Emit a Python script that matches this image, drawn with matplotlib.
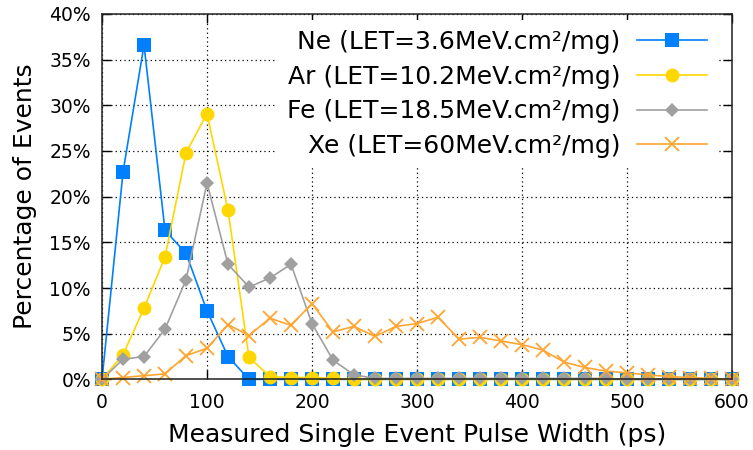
import numpy as np
import matplotlib
matplotlib.use("Agg")
import matplotlib.pyplot as plt
from matplotlib.ticker import FuncFormatter

# pulse width bins (ps)
pulse_width = list(range(0, 601, 20))

# percentage of events per ion
ne_pct = [0, 22.7, 36.6, 16.3, 13.8, 7.5, 2.5, 0, 0, 0, 0, 0, 0, 0, 0, 0,
          0, 0, 0, 0, 0, 0, 0, 0, 0, 0, 0, 0, 0, 0, 0]
ar_pct = [0, 2.7, 7.8, 13.4, 24.8, 29.1, 18.5, 2.4, 0.3, 0.2, 0.2, 0.1, 0, 0, 0, 0,
          0, 0, 0, 0, 0, 0, 0, 0, 0, 0, 0, 0, 0, 0, 0]
fe_pct = [0, 2.2, 2.5, 5.5, 10.9, 21.5, 12.6, 10.1, 11.1, 12.6, 6.1, 2.1, 0.5, 0.1, 0.1, 0.1,
          0.1, 0.1, 0.1, 0.1, 0.1, 0.1, 0.1, 0.1, 0.1, 0, 0, 0, 0, 0, 0]
xe_pct = [0, 0.2, 0.4, 0.6, 2.6, 3.4, 6.0, 4.8, 6.7, 5.9, 8.3, 5.2, 5.8, 4.7, 5.8, 6.1,
          6.8, 4.4, 4.6, 4.2, 3.8, 3.2, 1.9, 1.3, 0.9, 0.7, 0.5, 0.3, 0.2, 0.1, 0]

labels = ["Ne (LET=3.6MeV.cm²/mg)", "Ar (LET=10.2MeV.cm²/mg)",
          "Fe (LET=18.5MeV.cm²/mg)", "Xe (LET=60MeV.cm²/mg)"]

plt.rcParams['font.family'] = ['DejaVu Sans']

fig = plt.figure(figsize=(7.53, 4.5), dpi=100)
ax = fig.add_axes([0.1355, 0.157, 0.8365, 0.812])

ax.plot(pulse_width, ne_pct, label=labels[0], color='#0080FF', marker='s', ms=9.5,
        mew=0, lw=1.2, clip_on=False)
ax.plot(pulse_width, ar_pct, label=labels[1], color='#FFD700', marker='o', ms=10,
        mew=0, lw=1.2, clip_on=False)
ax.plot(pulse_width, fe_pct, label=labels[2], color='#A0A0A0', marker='D', ms=7.5,
        mew=0, lw=1.2, clip_on=False)
ax.plot(pulse_width, xe_pct, label=labels[3], color='#FFA530', marker='x', ms=10,
        mew=1.3, lw=1.2, clip_on=False)

ax.set_xlim(0, 600)
ax.set_ylim(0, 40)
ax.set_xticks(range(0, 601, 100))
ax.set_yticks(range(0, 41, 5))
ax.yaxis.set_major_formatter(FuncFormatter(lambda v, p: "%d%%" % v))

ax.grid(True, linestyle=(0, (1, 2.5)), linewidth=0.9, color='black')
ax.set_axisbelow(True)
ax.tick_params(direction='in', length=6.5, width=1, top=True, right=True,
               labelsize=13.5)
ax.tick_params(axis='x', pad=10)
ax.tick_params(axis='y', pad=8)
for s in ax.spines.values():
    s.set_linewidth(1.1)
    s.set_color('#222222')

ax.set_xlabel("Measured Single Event Pulse Width (ps)", fontsize=18, labelpad=8)
ax.set_ylabel("Percentage of Events", fontsize=18, labelpad=9)

leg = ax.legend(loc='upper right', bbox_to_anchor=(0.976, 0.984), fontsize=18,
                markerfirst=False, frameon=True, fancybox=False, framealpha=1,
                edgecolor='none', facecolor='white', borderpad=0.4, borderaxespad=0,
                handlelength=2.8, handletextpad=0.65, labelspacing=0.43)
for t in leg.get_texts():
    t.set_ha('right')
leg._legend_box.align = 'right'

fig.savefig("out.png", dpi=100)
